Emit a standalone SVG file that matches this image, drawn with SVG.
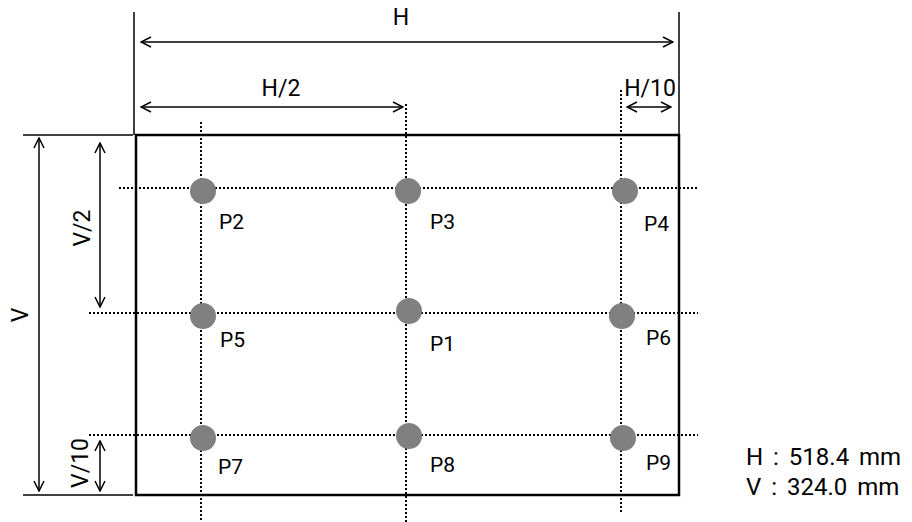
<svg xmlns="http://www.w3.org/2000/svg" width="912" height="522" viewBox="0 0 912 522">
<style>
text{font-family:Roboto,"Liberation Sans",Arial,sans-serif;fill:#000}
.lbl{font-size:21px}
.dim{font-size:23px}
.info{font-size:24px;word-spacing:4px}
.dot{stroke:#000;stroke-width:2;stroke-dasharray:2 2;fill:none}
.solid{stroke:#000;stroke-width:1.5;fill:none}
.arr{stroke:#000;stroke-width:1.5;fill:none;marker-start:url(#a);marker-end:url(#a)}
.pt{fill:#808080}
</style>
<defs>
<marker id="a" viewBox="0 0 12 12" refX="11" refY="6" markerWidth="12" markerHeight="12" markerUnits="userSpaceOnUse" orient="auto-start-reverse">
<path d="M1 1 L11 6 L1 11" fill="none" stroke="#000" stroke-width="1.5"/>
</marker>
</defs>
<g id="connectors">
<line class="dot" x1="201" y1="122" x2="201" y2="522"/>
<line class="dot" x1="406" y1="104" x2="406" y2="522"/>
<line class="dot" x1="621" y1="90" x2="621" y2="512"/>
<line class="dot" x1="119" y1="188" x2="698" y2="188"/>
<line class="dot" x1="89" y1="313" x2="698" y2="313"/>
<line class="dot" x1="89" y1="435" x2="698" y2="435"/>
<line class="solid" x1="134" y1="12" x2="134" y2="135"/>
<line class="solid" x1="679" y1="12" x2="679" y2="135"/>
<line class="solid" x1="23" y1="135" x2="133" y2="135"/>
<line class="solid" x1="23" y1="495" x2="133" y2="495"/>
<line class="arr" x1="141" y1="42" x2="673" y2="42"/>
<line class="arr" x1="141" y1="107" x2="403" y2="107"/>
<line class="arr" x1="627" y1="107" x2="671" y2="107"/>
<line class="arr" x1="39" y1="138" x2="39" y2="491"/>
<line class="arr" x1="100" y1="143" x2="100" y2="307"/>
<line class="arr" x1="100" y1="441" x2="100" y2="491"/>
</g>
<g id="frame">
<rect x="136" y="135" width="543" height="360" fill="none" stroke="#000" stroke-width="2.5"/>
</g>
<g id="dims">
<text class="dim" x="401" y="25" text-anchor="middle">H</text>
<text class="dim" x="281" y="96" text-anchor="middle">H/2</text>
<text class="dim" x="650" y="96" text-anchor="middle">H/10</text>
<text class="dim" transform="translate(28,315) rotate(-90)" text-anchor="middle">V</text>
<text class="dim" transform="translate(90,228) rotate(-90)" text-anchor="middle">V/2</text>
<text class="dim" transform="translate(88,463) rotate(-90)" text-anchor="middle">V/10</text>
</g>
<g id="P2"><circle class="pt" cx="203" cy="191" r="13"/><text class="lbl" x="219" y="229">P2</text></g>
<g id="P3"><circle class="pt" cx="408" cy="191" r="13"/><text class="lbl" x="430" y="229">P3</text></g>
<g id="P4"><circle class="pt" cx="625" cy="191" r="13"/><text class="lbl" x="644" y="231">P4</text></g>
<g id="P5"><circle class="pt" cx="203" cy="316" r="13"/><text class="lbl" x="220" y="347">P5</text></g>
<g id="P1"><circle class="pt" cx="409" cy="311" r="13"/><text class="lbl" x="430" y="351">P1</text></g>
<g id="P6"><circle class="pt" cx="622" cy="316" r="13"/><text class="lbl" x="646" y="345">P6</text></g>
<g id="P7"><circle class="pt" cx="203" cy="438" r="13"/><text class="lbl" x="218" y="474">P7</text></g>
<g id="P8"><circle class="pt" cx="409" cy="436" r="13"/><text class="lbl" x="430" y="472">P8</text></g>
<g id="P9"><circle class="pt" cx="623" cy="438" r="13"/><text class="lbl" x="646" y="470">P9</text></g>
<g id="info">
<text class="info" x="746" y="465">H : 518.4 mm</text>
<text class="info" x="746" y="495">V : 324.0 mm</text>
</g>
</svg>
